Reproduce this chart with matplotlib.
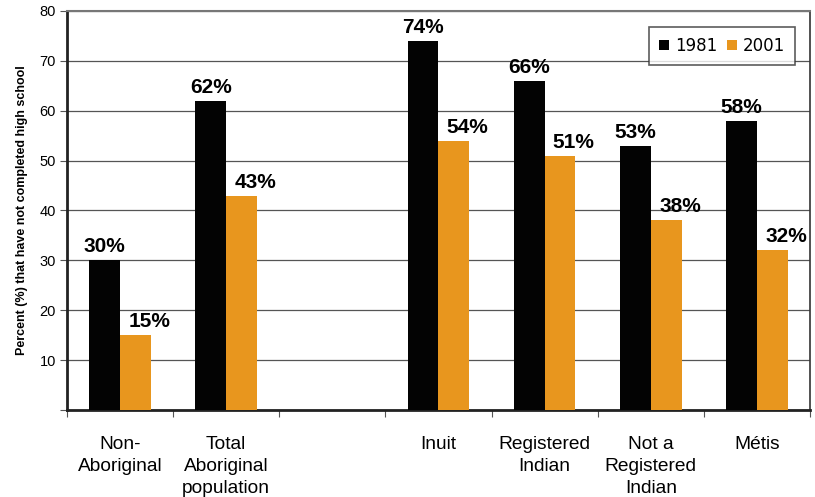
import matplotlib
matplotlib.use("Agg")
import matplotlib.pyplot as plt
import numpy as np

categories = ["Non-\nAboriginal", "Total\nAboriginal\npopulation", "",
              "Inuit", "Registered\nIndian", "Not a\nRegistered\nIndian", "Métis"]
y1981 = [30, 62, None, 74, 66, 53, 58]
y2001 = [15, 43, None, 54, 51, 38, 32]

plt.rcParams['font.family'] = ['Liberation Sans', 'DejaVu Sans']

fig = plt.figure(figsize=(8.15, 4.97), dpi=100)
ax = fig.add_axes([67/815, 1 - 410/497, (810-67)/815, (410-11)/497])

black = "#030303"
orange = "#E8961E"
w = 0.29
x = np.arange(len(categories)) + 0.5

for i in range(len(categories)):
    if y1981[i] is None:
        continue
    ax.bar(x[i] - w/2, y1981[i], w, color=black, zorder=3)
    ax.bar(x[i] + w/2, y2001[i], w, color=orange, zorder=3)
    ax.text(x[i] - w/2, y1981[i] + 0.8, f"{y1981[i]}%", ha="center", va="bottom",
            fontsize=15, fontweight="bold")
    ax.text(x[i] + w/2 + 0.13, y2001[i] + 0.8, f"{y2001[i]}%", ha="center", va="bottom",
            fontsize=15, fontweight="bold")

# legend handles
ax.bar([0], [0], color=black, label="1981")
ax.bar([0], [0], color=orange, label="2001")
leg = ax.legend(loc="upper right", bbox_to_anchor=(0.98, 0.96), ncol=2,
                frameon=True, fancybox=False, edgecolor="#333333", handlelength=0.6,
                handleheight=0.6, handletextpad=0.35, columnspacing=0.6,
                borderpad=0.6, borderaxespad=0,
                prop={'family': 'DejaVu Sans', 'size': 12})
leg.get_frame().set_linewidth(1.2)

ax.set_xlim(0, len(categories))
ax.set_ylim(0, 80)
ax.set_yticks(range(0, 81, 10))
ax.set_yticklabels([""] + [str(v) for v in range(10, 81, 10)], fontsize=10.5)
ax.set_xticks(range(len(categories) + 1))
ax.set_xticklabels([])
ax.set_xticks(x, minor=True)
ax.set_xticklabels(categories, minor=True, fontsize=13.8, va="top", linespacing=1.38)
ax.tick_params(axis="x", which="minor", length=0, pad=19)
ax.tick_params(axis="x", which="major", length=5, color="#555555")
ax.tick_params(axis="y", length=5, color="#555555", pad=3)

ax.grid(axis="y", color="#555555", linewidth=0.9, zorder=0)
ax.set_ylabel("Percent (%) that have not completed high school", fontsize=9,
              fontweight="bold", labelpad=8)

for s in ["left", "bottom"]:
    ax.spines[s].set_linewidth(2)
    ax.spines[s].set_color("#222222")
ax.spines["right"].set_color("#333333")
ax.spines["right"].set_linewidth(1.2)
ax.spines["top"].set_color("#777777")
ax.spines["top"].set_linewidth(1.5)

fig.savefig("out.png", dpi=100)
